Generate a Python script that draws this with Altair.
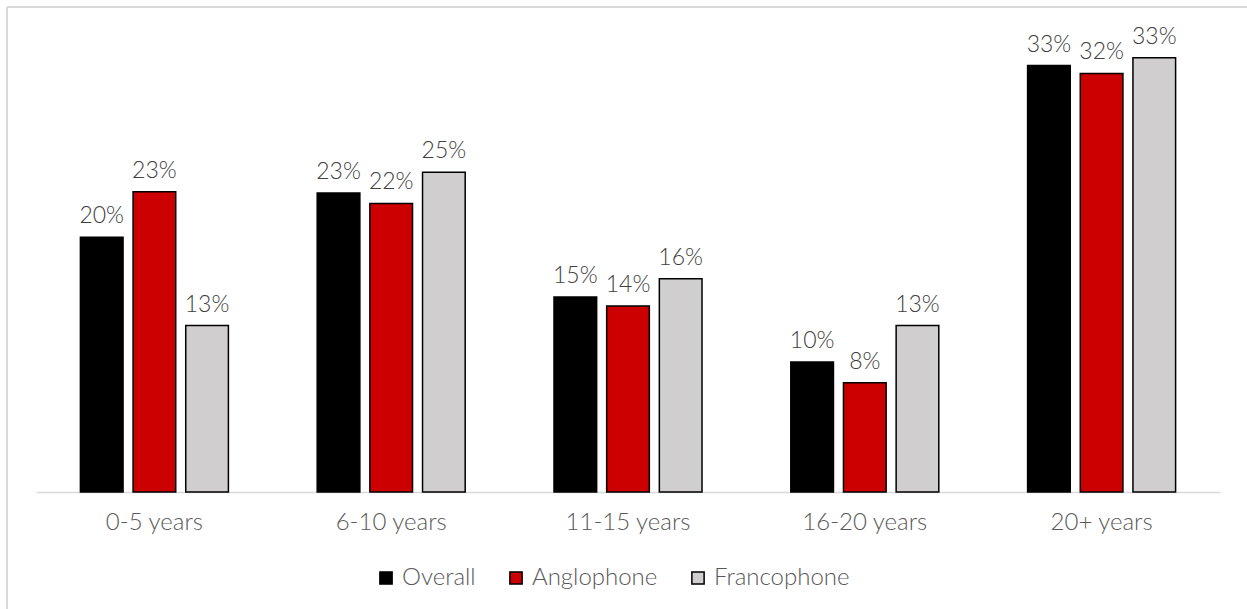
import altair as alt
import pandas as pd

categories = ["0-5 years", "6-10 years", "11-15 years", "16-20 years", "20+ years"]
series = ["Overall", "Anglophone", "Francophone"]
overall = [0.196, 0.230, 0.150, 0.100, 0.328]
anglophone = [0.231, 0.222, 0.143, 0.084, 0.322]
francophone = [0.128, 0.246, 0.164, 0.128, 0.334]
colors = ["#000000", "#CC0000", "#D0CECE"]

rows = []
for i, c in enumerate(categories):
    for s, vals in zip(series, [overall, anglophone, francophone]):
        rows.append({"cat": c, "series": s, "value": vals[i]})
df = pd.DataFrame(rows)

FONT = "Lato"
W, H = 1184, 455

x_enc = alt.X("cat:N", sort=categories, title=None,
              scale=alt.Scale(paddingInner=0.375, paddingOuter=0.1875),
              axis=alt.Axis(labelAngle=0, ticks=False, labelPadding=18,
                            labelFontSize=24, labelFont=FONT, labelColor="#595959",
                            labelFontWeight=300,
                            domainColor="#D9D9D9", domainWidth=1.5))
xoff = alt.XOffset("series:N", sort=series, scale=alt.Scale(paddingInner=0.19))
y_enc = alt.Y("value:Q", scale=alt.Scale(domain=[0, 0.35]), axis=None)

base = alt.Chart(df).encode(x=x_enc, xOffset=xoff, y=y_enc)

bars = base.mark_bar(stroke="#000000", strokeWidth=1.5).encode(
    color=alt.Color("series:N", sort=series,
                    scale=alt.Scale(domain=series, range=colors),
                    legend=alt.Legend(title=None, orient="none", direction="horizontal",
                                      legendX=338, legendY=529,
                                      symbolType="square", symbolSize=150,
                                      symbolStrokeColor="#000000", symbolStrokeWidth=1.5,
                                      labelFontSize=24, labelFont=FONT, labelColor="#595959",
                                      labelFontWeight=300,
                                      columnPadding=28, symbolOffset=0, labelOffset=4))
)

labels = base.mark_text(baseline="alphabetic", dy=-14, fontSize=23, font=FONT,
                        fontWeight=300, color="#404040").encode(
    text=alt.Text("value:Q", format=".0%")
)

border_left = alt.Chart(pd.DataFrame({"a": [0]})).mark_rule(color="#D9D9D9", strokeWidth=2).encode(
    x=alt.value(-29), y=alt.value(-30), y2=alt.value(H + 140))
border_top = alt.Chart(pd.DataFrame({"a": [0]})).mark_rule(color="#D9D9D9", strokeWidth=2).encode(
    y=alt.value(-30), x=alt.value(-29), x2=alt.value(W + 80))

chart = alt.layer(border_left, border_top, bars, labels).properties(
    width=W, height=H, background="white",
    padding={"left": 36, "top": 37, "right": 27, "bottom": 117},
    autosize=alt.AutoSizeParams(type="none"),
).configure_view(strokeWidth=0, stroke=None)

chart.save("out.html", embed_options={"renderer": "svg", "actions": False})
